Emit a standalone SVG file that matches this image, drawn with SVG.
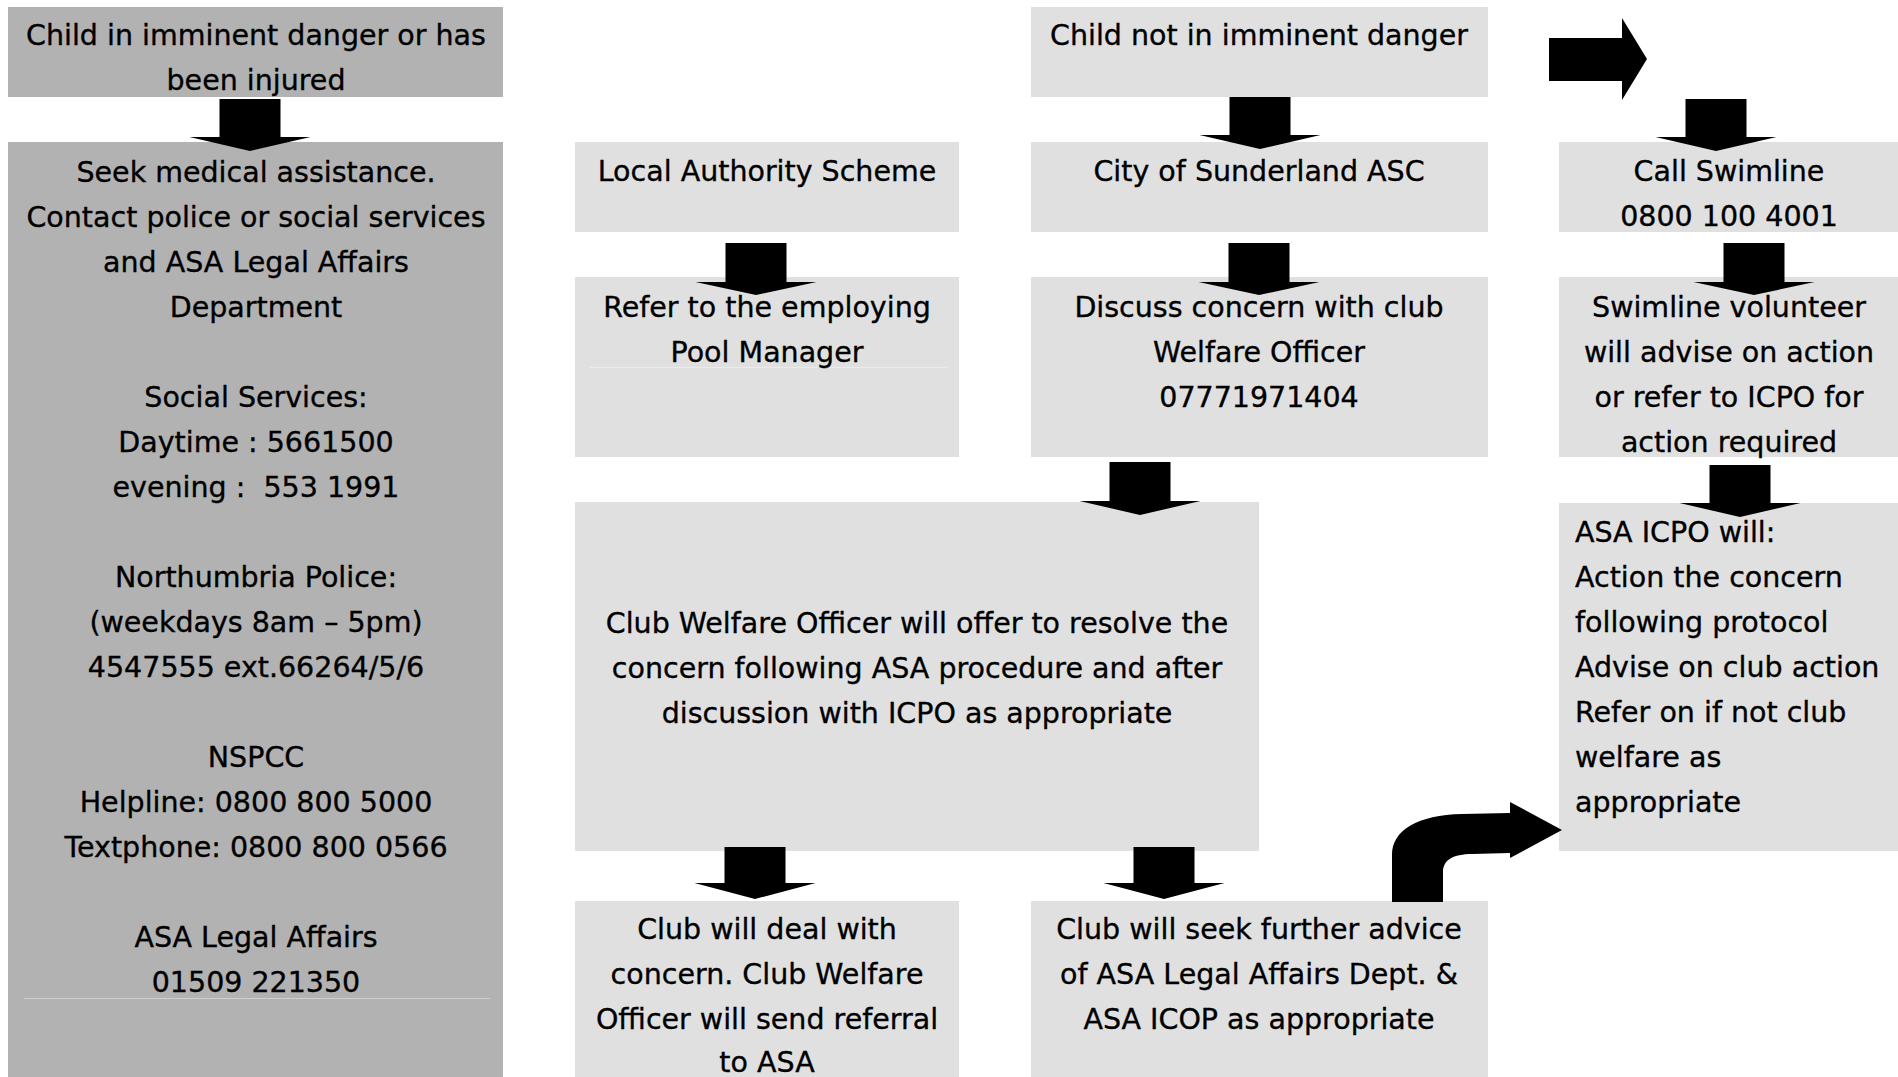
<svg xmlns="http://www.w3.org/2000/svg" width="1898" height="1077" viewBox="0 0 1898 1077">
<style>
.dark{fill:#b2b2b2}
.light{fill:#e0e0e0}
text{font-family:"DejaVu Sans","Liberation Sans",sans-serif;font-size:28.5px;fill:#000;stroke:#000;stroke-width:0.35px;white-space:pre}
.c{text-anchor:middle}
.arrow{fill:#000}
.seam{stroke-width:1}
</style>
<rect width="1898" height="1077" fill="#fff"/>
<g id="n1"><rect class="dark" x="8" y="7" width="495" height="90"/>
<text class="c" x="256" y="45">Child in imminent danger or has</text>
<text class="c" x="256" y="90">been injured</text></g>
<g id="n2"><rect class="dark" x="8" y="142" width="495" height="935"/>
<line class="seam" x1="24" y1="998.5" x2="490" y2="998.5" stroke="#d0d0d0"/>
<text class="c" x="256" y="182">Seek medical assistance.</text>
<text class="c" x="256" y="227">Contact police or social services</text>
<text class="c" x="256" y="272">and ASA Legal Affairs</text>
<text class="c" x="256" y="317">Department</text>
<text class="c" x="256" y="407">Social Services:</text>
<text class="c" x="256" y="452">Daytime : 5661500</text>
<text class="c" x="256" y="497">evening :  553 1991</text>
<text class="c" x="256" y="587">Northumbria Police:</text>
<text class="c" x="256" y="632">(weekdays 8am – 5pm)</text>
<text class="c" x="256" y="677">4547555 ext.66264/5/6</text>
<text class="c" x="256" y="767">NSPCC</text>
<text class="c" x="256" y="812">Helpline: 0800 800 5000</text>
<text class="c" x="256" y="857">Textphone: 0800 800 0566</text>
<text class="c" x="256" y="947">ASA Legal Affairs</text>
<text class="c" x="256" y="992">01509 221350</text></g>
<g id="n3"><rect class="light" x="1031" y="7" width="457" height="90"/>
<text class="c" x="1259" y="45">Child not in imminent danger</text></g>
<g id="n4"><rect class="light" x="575" y="142" width="384" height="90"/>
<text class="c" x="767" y="181">Local Authority Scheme</text></g>
<g id="n5"><rect class="light" x="1031" y="142" width="457" height="90"/>
<text class="c" x="1259" y="181">City of Sunderland ASC</text></g>
<g id="n6"><rect class="light" x="1559" y="142" width="339" height="90"/>
<text class="c" x="1729" y="181">Call Swimline</text>
<text class="c" x="1729" y="226">0800 100 4001</text></g>
<g id="n7"><rect class="light" x="575" y="277" width="384" height="180"/>
<line class="seam" x1="590" y1="367.5" x2="947" y2="367.5" stroke="#ebebeb"/>
<text class="c" x="767" y="317">Refer to the employing</text>
<text class="c" x="767" y="362">Pool Manager</text></g>
<g id="n8"><rect class="light" x="1031" y="277" width="457" height="180"/>
<text class="c" x="1259" y="317">Discuss concern with club</text>
<text class="c" x="1259" y="362">Welfare Officer</text>
<text class="c" x="1259" y="407">07771971404</text></g>
<g id="n9"><rect class="light" x="1559" y="277" width="339" height="180"/>
<text class="c" x="1729" y="317">Swimline volunteer</text>
<text class="c" x="1729" y="362">will advise on action</text>
<text class="c" x="1729" y="407">or refer to ICPO for</text>
<text class="c" x="1729" y="452">action required</text></g>
<g id="n10"><rect class="light" x="575" y="502" width="684" height="349"/>
<text class="c" x="917" y="633">Club Welfare Officer will offer to resolve the</text>
<text class="c" x="917" y="678">concern following ASA procedure and after</text>
<text class="c" x="917" y="723">discussion with ICPO as appropriate</text></g>
<g id="n11"><rect class="light" x="1559" y="503" width="339" height="348"/>
<text x="1575" y="542">ASA ICPO will:</text>
<text x="1575" y="587">Action the concern</text>
<text x="1575" y="632">following protocol</text>
<text x="1575" y="677">Advise on club action</text>
<text x="1575" y="722">Refer on if not club</text>
<text x="1575" y="767">welfare as</text>
<text x="1575" y="812">appropriate</text></g>
<g id="n12"><rect class="light" x="575" y="901" width="384" height="176"/>
<text class="c" x="767" y="939">Club will deal with</text>
<text class="c" x="767" y="984">concern. Club Welfare</text>
<text class="c" x="767" y="1029">Officer will send referral</text>
<text class="c" x="767" y="1072">to ASA</text></g>
<g id="n13"><rect class="light" x="1031" y="901" width="457" height="176"/>
<text class="c" x="1259" y="939">Club will seek further advice</text>
<text class="c" x="1259" y="984">of ASA Legal Affairs Dept. &amp;</text>
<text class="c" x="1259" y="1029">ASA ICOP as appropriate</text></g>
<g id="connectors" class="arrow">
<path d="M219.5 99H280.5V137H310.5L250 151L189.5 137H219.5Z"/>
<path d="M1229.5 97H1290.5V135H1320.5L1260 149L1199.5 135H1229.5Z"/>
<path d="M1549 38H1622V18L1647 59L1622 100V81H1549Z"/>
<path d="M1685.5 99H1746.5V137H1776.5L1716 151L1655.5 137H1685.5Z"/>
<path d="M725.5 243H786.5V282H816.5L756 295L695.5 282H725.5Z"/>
<path d="M1228.5 243H1289.5V282H1319.5L1259 295L1198.5 282H1228.5Z"/>
<path d="M1723.5 243H1784.5V282H1814.5L1754 295L1693.5 282H1723.5Z"/>
<path d="M1109.5 462H1170.5V501H1200.5L1140 515L1079.5 501H1109.5Z"/>
<path d="M1709.5 465H1770.5V503H1800.5L1740 517L1679.5 503H1709.5Z"/>
<path d="M724.5 847H785.5V883H815.5L755 899L694.5 883H724.5Z"/>
<path d="M1133.5 847H1194.5V883H1224.5L1164 899L1103.5 883H1133.5Z"/>
<path d="M1392 902V855C1392 830 1418 815 1462 814L1510 813V802L1562 830L1510 858V853L1472 854C1453 854 1443 860 1443 872V902Z"/>
</g>
</svg>
